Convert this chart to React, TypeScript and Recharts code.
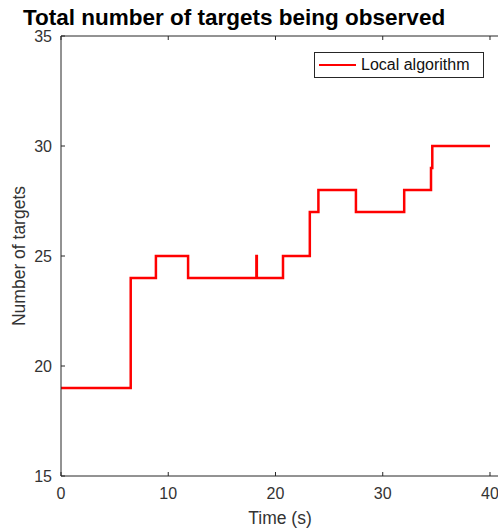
import React from 'react';
import { LineChart, Line, XAxis, YAxis } from 'recharts';

const stepTimes = [0, 6.5, 8.85, 11.85, 18.22, 18.26, 20.7, 23.2, 24.0, 27.5, 32.0, 34.5, 34.62, 40];
const targetCounts = [19, 24, 25, 24, 25, 24, 25, 27, 28, 27, 28, 29, 30, 30];
const xTicks = [0, 10, 20, 30, 40];
const yTicks = [15, 20, 25, 30, 35];
const seriesName = 'Local algorithm';

const data = stepTimes.map((t, i) => ({ t, n: targetCounts[i] }));

const FONT = '"Liberation Sans", Arial, Helvetica, sans-serif';
const AXIS = '#262626';

const LegendBox = () => (
  <div
    style={{
      position: 'absolute',
      left: 314,
      top: 52,
      width: 170,
      height: 26,
      boxSizing: 'border-box',
      border: '1px solid #262626',
      background: '#fff',
      display: 'flex',
      alignItems: 'center',
      fontFamily: FONT,
      fontSize: 16,
      color: '#111',
      zIndex: 2,
    }}
  >
    <div style={{ width: 37, height: 2, background: '#ff0000', marginLeft: 4, marginRight: 5 }} />
    <span style={{ whiteSpace: 'nowrap' }}>{seriesName}</span>
  </div>
);

export default function App() {
  return (
    <div style={{ position: 'fixed', left: 0, top: 0, width: 498, height: 530, overflow: 'hidden', background: '#fff' }}>
      <div
        style={{
          position: 'absolute',
          left: 23,
          top: 9,
          fontFamily: FONT,
          fontWeight: 'bold',
          fontSize: 22.5,
          lineHeight: '18px',
          color: '#000',
          whiteSpace: 'nowrap',
          zIndex: 2,
        }}
      >
        Total number of targets being observed
      </div>
      <LegendBox />
      <LineChart width={500} height={530} data={data} margin={{ top: 35, right: 0, bottom: 0, left: 0 }}>
        <XAxis
          xAxisId="b"
          dataKey="t"
          type="number"
          domain={[0, 40.84]}
          ticks={xTicks}
          allowDataOverflow
          height={54}
          tickSize={-4}
          tickMargin={16}
          stroke={AXIS}
          tick={{ fill: '#333', fontSize: 16, fontFamily: FONT }}
          label={{ value: 'Time (s)', position: 'insideBottom', offset: 6, style: { fill: '#333', fontSize: 17.5, fontFamily: FONT } }}
        />
        <XAxis
          xAxisId="top"
          orientation="top"
          dataKey="t"
          type="number"
          domain={[0, 40.84]}
          ticks={xTicks}
          allowDataOverflow
          height={1}
          tickSize={-4}
          stroke={AXIS}
          tickFormatter={() => ''}
        />
        <YAxis
          yAxisId="l"
          type="number"
          domain={[15, 35]}
          ticks={yTicks}
          width={61}
          tickSize={-4}
          tickMargin={13}
          stroke={AXIS}
          tick={{ fill: '#333', fontSize: 16, fontFamily: FONT }}
          label={{
            value: 'Number of targets',
            angle: -90,
            position: 'insideLeft',
            offset: 19,
            style: { textAnchor: 'middle', fill: '#333', fontSize: 17.5, fontFamily: FONT },
          }}
        />
        <YAxis
          yAxisId="r"
          orientation="right"
          type="number"
          domain={[15, 35]}
          ticks={yTicks}
          width={1}
          tickSize={-4}
          stroke={AXIS}
          tickFormatter={() => ''}
        />
        <Line
          xAxisId="b"
          yAxisId="l"
          type="stepAfter"
          dataKey="n"
          name={seriesName}
          stroke="#ff0000"
          strokeWidth={2.5}
          dot={false}
          isAnimationActive={false}
        />
      </LineChart>
    </div>
  );
}
